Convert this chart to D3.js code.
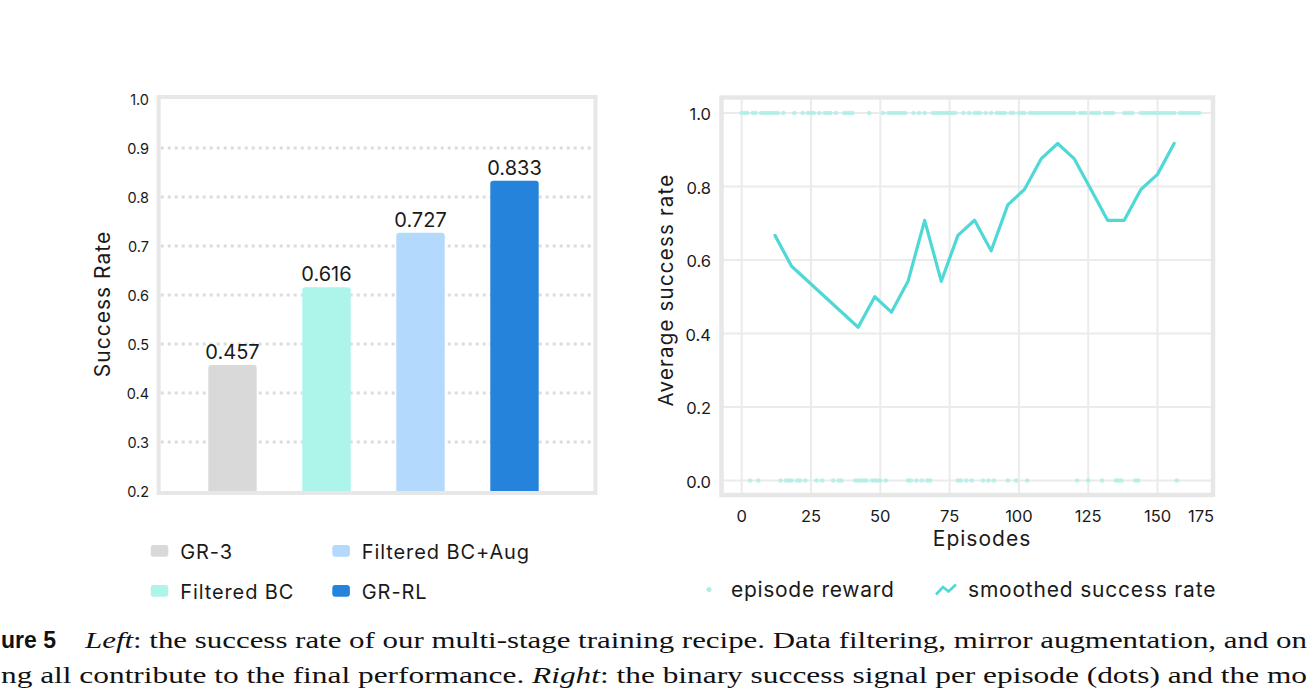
<!DOCTYPE html>
<html>
<head>
<meta charset="utf-8">
<script src="https://cdn.jsdelivr.net/npm/d3@7"></script>
<style>
  body { margin: 0; background: #fff; }
  svg { display: block; }
  .sans { font-family: Inter, Lato, "Noto Sans", sans-serif; fill: #1a1a1a; }
  .serif { font-family: "Liberation Serif", "DejaVu Serif", serif; fill: #111; }
</style>
</head>
<body>
<svg id="chart" width="1310" height="694"></svg>
<script>
// left panel: success rate per training stage
const methods = ["GR-3", "Filtered BC", "Filtered BC+Aug", "GR-RL"];
const successRate = [0.457, 0.616, 0.727, 0.833];
const barColors = ["#d9d9d9", "#adf5ea", "#b3d9fc", "#2683dc"];
const leftTicks = [0.2, 0.3, 0.4, 0.5, 0.6, 0.7, 0.8, 0.9, 1.0];

// right panel: smoothed success rate and per-episode reward
const smoothEpisodes = [12, 18, 42, 48, 54, 60, 66, 72, 78, 84, 90, 96, 102, 108, 114, 120, 126, 132, 138, 144, 150, 156];
const smoothRate = [0.667, 0.583, 0.417, 0.5, 0.458, 0.542, 0.708, 0.542, 0.667, 0.708, 0.625, 0.75, 0.792, 0.875, 0.917, 0.875, 0.792, 0.708, 0.708, 0.792, 0.833, 0.917];
const episodeReward = [
  1,1,1,0,1,1,0,1,1,1,
  1,1,1,1,0,1,0,0,0,1,
  0,0,1,0,1,1,1,0,1,0,
  1,1,1,0,1,0,0,1,1,1,
  1,0,0,0,0,0,1,0,0,0,
  0,1,0,1,1,1,1,1,1,1,
  0,0,1,0,1,0,1,0,0,1,
  1,1,1,1,1,1,1,1,0,0,
  1,0,1,0,1,1,1,0,1,0,
  1,0,1,1,1,1,0,1,1,0,
  1,1,1,0,1,1,1,1,1,1,
  1,1,1,1,1,1,1,1,1,1,
  1,0,1,1,1,0,1,1,1,1,
  0,1,1,1,1,0,0,0,1,1,
  1,1,0,0,1,1,1,1,1,1,
  1,1,1,1,1,1,1,0,1,1,
  1,1,1,1,1,1
];
const xTicks = [0, 25, 50, 75, 100, 125, 150, 175];
const yTicks = [0, 0.2, 0.4, 0.6, 0.8, 1.0];

const svg = d3.select("#chart");
const frameColor = "#e7e7e7";
const gridColor = "#ebebeb";

// ---------- left panel ----------
const left = { x0: 158.7, x1: 595.5, y0: 97, y1: 493 };
const yL = d3.scaleLinear().domain([0.2, 1.0]).range([491, 99]);
const xL = d3.scaleBand().domain(methods).range([161.3, 585.7])
    .paddingInner(0.485).paddingOuter(0.5);

svg.append("g").selectAll("line")
    .data(leftTicks.filter(t => t > 0.2 && t < 1.0))
    .join("line")
    .attr("x1", left.x0 + 2).attr("x2", left.x1 - 2)
    .attr("y1", d => yL(d)).attr("y2", d => yL(d))
    .attr("stroke", "#dcdcdc")
    .attr("stroke-width", 2.8)
    .attr("stroke-dasharray", "3,4");

function topRounded(x, y, w, h, r) {
    return `M${x},${y + h}V${y + r}Q${x},${y} ${x + r},${y}H${x + w - r}Q${x + w},${y} ${x + w},${y + r}V${y + h}Z`;
}

svg.append("g").selectAll("path")
    .data(methods)
    .join("path")
    .attr("d", (d, i) => topRounded(xL(d), yL(successRate[i]), xL.bandwidth(), yL(0.2) - yL(successRate[i]), 3))
    .attr("fill", (d, i) => barColors[i]);

svg.append("g").selectAll("text")
    .data(methods)
    .join("text")
    .attr("class", "sans")
    .attr("x", d => xL(d) + xL.bandwidth() / 2)
    .attr("y", (d, i) => yL(successRate[i]) - 6)
    .attr("text-anchor", "middle")
    .attr("font-size", "20px")
    .text((d, i) => successRate[i].toFixed(3));

svg.append("rect")
    .attr("x", left.x0).attr("y", left.y0)
    .attr("width", left.x1 - left.x0).attr("height", left.y1 - left.y0)
    .attr("fill", "none").attr("stroke", frameColor).attr("stroke-width", 4);

svg.append("g").selectAll("text")
    .data(leftTicks)
    .join("text")
    .attr("class", "sans")
    .attr("x", 149)
    .attr("y", d => yL(d))
    .attr("text-anchor", "end")
    .attr("dominant-baseline", "central")
    .attr("font-size", "14.5px")
    .text(d => d.toFixed(1));

svg.append("text")
    .attr("class", "sans")
    .attr("transform", "translate(110,304) rotate(-90)")
    .attr("text-anchor", "middle")
    .attr("font-size", "21px")
    .attr("letter-spacing", "1px")
    .text("Success Rate");

// legend, two columns
const legL = svg.append("g").selectAll("g")
    .data(methods)
    .join("g")
    .attr("transform", (d, i) => `translate(${i < 2 ? 150.7 : 332.3},${i % 2 === 0 ? 545 : 585})`);
legL.append("rect")
    .attr("width", 17.6).attr("height", 11.7).attr("rx", 3)
    .attr("fill", (d, i) => barColors[i]);
legL.append("text")
    .attr("class", "sans")
    .attr("x", 29.5).attr("y", 14)
    .attr("font-size", "20px")
    .attr("letter-spacing", "0.9px")
    .text(d => d);

// ---------- right panel ----------
const right = { x0: 721.5, x1: 1213, y0: 97.5, y1: 495 };
const xR = d3.scaleLinear().domain([0, 150]).range([741.7, 1157.5]);
const yR = d3.scaleLinear().domain([0, 1]).range([480.5, 113]);

const gridR = svg.append("g");
gridR.selectAll(".gx")
    .data(xTicks.filter(t => xR(t) < right.x1))
    .join("line")
    .attr("x1", d => xR(d)).attr("x2", d => xR(d))
    .attr("y1", right.y0).attr("y2", right.y1)
    .attr("stroke", gridColor).attr("stroke-width", 2);
gridR.selectAll(".gy")
    .data(yTicks)
    .join("line")
    .attr("x1", right.x0).attr("x2", right.x1)
    .attr("y1", d => yR(d)).attr("y2", d => yR(d))
    .attr("stroke", gridColor).attr("stroke-width", 2);

svg.append("g").selectAll("circle")
    .data(episodeReward)
    .join("circle")
    .attr("cx", (d, i) => xR(i))
    .attr("cy", d => yR(d))
    .attr("r", 2.3)
    .attr("fill", "#aeeee5")
    .attr("fill-opacity", 0.8);

const smoothLine = d3.line()
    .x((d, i) => xR(smoothEpisodes[i]))
    .y(d => yR(d));

svg.append("path")
    .datum(smoothRate)
    .attr("d", smoothLine)
    .attr("fill", "none")
    .attr("stroke", "#4fd8d6")
    .attr("stroke-width", 3.2)
    .attr("stroke-linejoin", "round")
    .attr("stroke-linecap", "round");

svg.append("rect")
    .attr("x", right.x0).attr("y", right.y0)
    .attr("width", right.x1 - right.x0).attr("height", right.y1 - right.y0)
    .attr("fill", "none").attr("stroke", frameColor).attr("stroke-width", 4.5);

// the 175 tick falls outside the frame; its label is pulled in to the edge, as in the source
svg.append("g").selectAll("text")
    .data(xTicks)
    .join("text")
    .attr("class", "sans")
    .attr("x", t => t === 175 ? right.x1 + 1 : xR(t))
    .attr("y", 522)
    .attr("text-anchor", t => t === 175 ? "end" : "middle")
    .attr("font-size", "16.5px")
    .text(d => d);

svg.append("g").selectAll("text")
    .data(yTicks)
    .join("text")
    .attr("class", "sans")
    .attr("x", 711)
    .attr("y", d => yR(d) + 1)
    .attr("text-anchor", "end")
    .attr("dominant-baseline", "central")
    .attr("font-size", "16.5px")
    .text(d => d.toFixed(1));

svg.append("text")
    .attr("class", "sans")
    .attr("x", 982).attr("y", 546)
    .attr("text-anchor", "middle")
    .attr("font-size", "21px")
    .attr("letter-spacing", "1px")
    .text("Episodes");

svg.append("text")
    .attr("class", "sans")
    .attr("transform", "translate(673,290) rotate(-90)")
    .attr("text-anchor", "middle")
    .attr("font-size", "20.5px")
    .attr("letter-spacing", "1.2px")
    .text("Average success rate");

// legend
svg.append("circle")
    .attr("cx", 709).attr("cy", 589.5).attr("r", 2.5)
    .attr("fill", "#aeeee5");
svg.append("text")
    .attr("class", "sans")
    .attr("x", 731).attr("y", 597)
    .attr("font-size", "21px")
    .attr("letter-spacing", "0.7px")
    .text("episode reward");
svg.append("path")
    .attr("d", d3.line()([[936, 594.5], [943, 587], [948.5, 591.5], [956, 584.5]]))
    .attr("fill", "none")
    .attr("stroke", "#4fd8d6")
    .attr("stroke-width", 2.6);
svg.append("text")
    .attr("class", "sans")
    .attr("x", 968).attr("y", 597)
    .attr("font-size", "21px")
    .attr("letter-spacing", "0.8px")
    .text("smoothed success rate");

// ---------- caption (cropped in the source) ----------
svg.append("text")
    .attr("x", 1).attr("y", 648)
    .attr("font-family", "'Liberation Sans', Arial, sans-serif")
    .attr("font-weight", "bold")
    .attr("font-size", "23px")
    .attr("fill", "#111")
    .text("ure 5");

const cap1 = svg.append("text")
    .attr("class", "serif")
    .attr("x", 85).attr("y", 648)
    .attr("font-size", "24px")
    .attr("textLength", 1222)
    .attr("lengthAdjust", "spacingAndGlyphs");
cap1.append("tspan").attr("font-style", "italic").text("Left");
cap1.append("tspan").text(": the success rate of our multi-stage training recipe. Data filtering, mirror augmentation, and on");

const cap2 = svg.append("text")
    .attr("class", "serif")
    .attr("x", 1).attr("y", 683)
    .attr("font-size", "24px")
    .attr("textLength", 1306)
    .attr("lengthAdjust", "spacingAndGlyphs");
cap2.append("tspan").text("ng all contribute to the final performance. ");
cap2.append("tspan").attr("font-style", "italic").text("Right");
cap2.append("tspan").text(": the binary success signal per episode (dots) and the mo");
</script>
</body>
</html>
